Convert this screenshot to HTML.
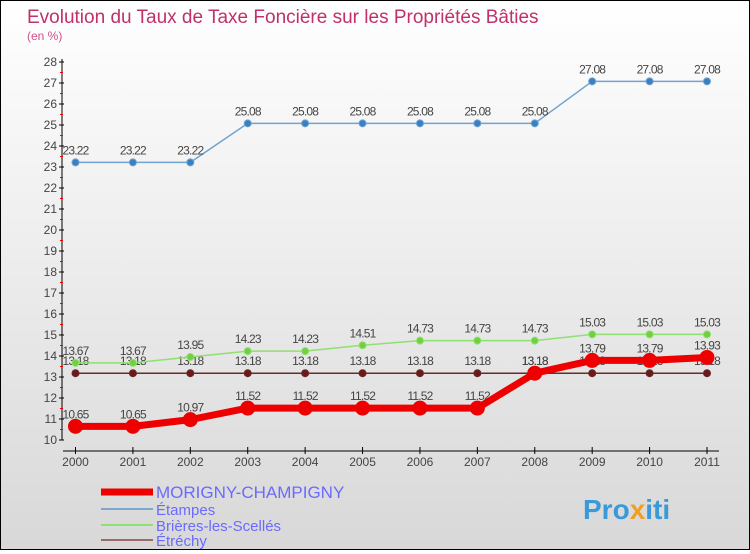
<!DOCTYPE html>
<html><head><meta charset="utf-8"><style>
html,body{margin:0;padding:0}
body{width:750px;height:550px;overflow:hidden;font-family:"Liberation Sans","DejaVu Sans",sans-serif}
#wrap{position:relative;width:748px;height:548px;border:1px solid #000;background:linear-gradient(#ffffff,#d8d8d8)}
</style></head><body>
<div id="wrap">
<svg id="chart" width="748" height="548" xmlns="http://www.w3.org/2000/svg">
<text x="26" y="22" font-size="19" fill="#c0306a">Evolution du Taux de Taxe Foncière sur les Propriétés Bâties</text>
<text x="26" y="39" font-size="12" fill="#d0508a">(en %)</text>
<g id="axes"></g>
<g id="series"></g>
<g id="legend"></g>
<text x="582" y="518" font-size="28" font-weight="bold" fill="#3a9ad9">Pro<tspan fill="#f0a020">x</tspan><tspan fill="#3a9ad9">iti</tspan></text>
</svg>
</div>
<script>
const years=[2000,2001,2002,2003,2004,2005,2006,2007,2008,2009,2010,2011];
const yTicks=[10,11,12,13,14,15,16,17,18,19,20,21,22,23,24,25,26,27,28];
const morigny=[10.65,10.65,10.97,11.52,11.52,11.52,11.52,11.52,13.18,13.79,13.79,13.93];
const etampes=[23.22,23.22,23.22,25.08,25.08,25.08,25.08,25.08,25.08,27.08,27.08,27.08];
const brieres=[13.67,13.67,13.95,14.23,14.23,14.51,14.73,14.73,14.73,15.03,15.03,15.03];
const etrechy=[13.18,13.18,13.18,13.18,13.18,13.18,13.18,13.18,13.18,13.18,13.18,13.18];
const NS="http://www.w3.org/2000/svg";
const x=i=>74.5+i*(706-74.5)/11;
const y=v=>439-(v-10)*(378/18);
function mk(tag,attrs,parent,txt){const e=document.createElementNS(NS,tag);for(const k in attrs)e.setAttribute(k,attrs[k]);if(txt!==undefined)e.textContent=txt;parent.appendChild(e);return e;}
const axes=document.getElementById('axes');
let el=mk('line',{x1:61,y1:y(28)-3,x2:61,y2:y(10),stroke:'#000','stroke-width':1},axes);


yTicks.forEach(t=>{
 mk('line',{x1:58,y1:y(t),x2:63,y2:y(t),stroke:'#000'},axes);
 if(t<28) mk('line',{x1:59,y1:y(t+0.5),x2:62,y2:y(t+0.5),stroke:'#e00'},axes);
 const tx=mk('text',{x:56,y:y(t)+4,'font-size':12,'text-anchor':'end',fill:'#444'},axes,String(t));
 
 
});
el=mk('line',{x1:62,y1:450,x2:718,y2:450,stroke:'#000'},axes);


years.forEach((yr,i)=>{
 mk('line',{x1:x(i),y1:446,x2:x(i),y2:453,stroke:'#000'},axes);
 const tx=mk('text',{x:x(i),y:465,'font-size':12,'text-anchor':'middle',fill:'#444'},axes,String(yr));
 
 
});
const ser=document.getElementById('series');
function draw(data,name,color,w,r,fill){
 const g=mk('g',{},ser);
 
 
 const pl=mk('polyline',{points:data.map((v,i)=>x(i)+','+y(v)).join(' '),fill:'none',stroke:color,'stroke-width':w,'stroke-linejoin':'round'},g);
 
 
 data.forEach((v,i)=>{
  const c=mk('circle',{cx:x(i),cy:y(v),r:r,fill:fill,stroke:color,'stroke-width':1},g);
  
  
  const t=mk('text',{x:x(i),y:y(v)-8,'font-size':12,'text-anchor':'middle',fill:'#444','letter-spacing':'-0.8'},g,v.toFixed(2));
  
  
 });
}
draw(etampes,'etampes','#6fa3d0',1.5,3.5,'#3a7fc0');
draw(etrechy,'etrechy','#6b2a2a',1.5,3.5,'#6b1a1a');
draw(brieres,'brieres','#90e070',1.5,3.5,'#70d040');
draw(morigny,'morigny','#ee0000',7,7,'#ee0000');
const lg=document.getElementById('legend');
const items=[['MORIGNY-CHAMPIGNY','#ee0000',7,17],['Étampes','#7aa8d0',2,15],['Brières-les-Scellés','#90e070',2,15],['Étréchy','#9a6a6a',2,15]];
const ly=[491,508,524,539];
items.forEach((it,k)=>{
 const g=mk('g',{},lg);
 
 
 mk('line',{x1:100,y1:ly[k],x2:152,y2:ly[k],stroke:it[1],'stroke-width':it[2]},g);
 mk('text',{x:155,y:ly[k]+6,'font-size':it[3],fill:'#6a6aff'},g,it[0]);
});
</script>
</body></html>
